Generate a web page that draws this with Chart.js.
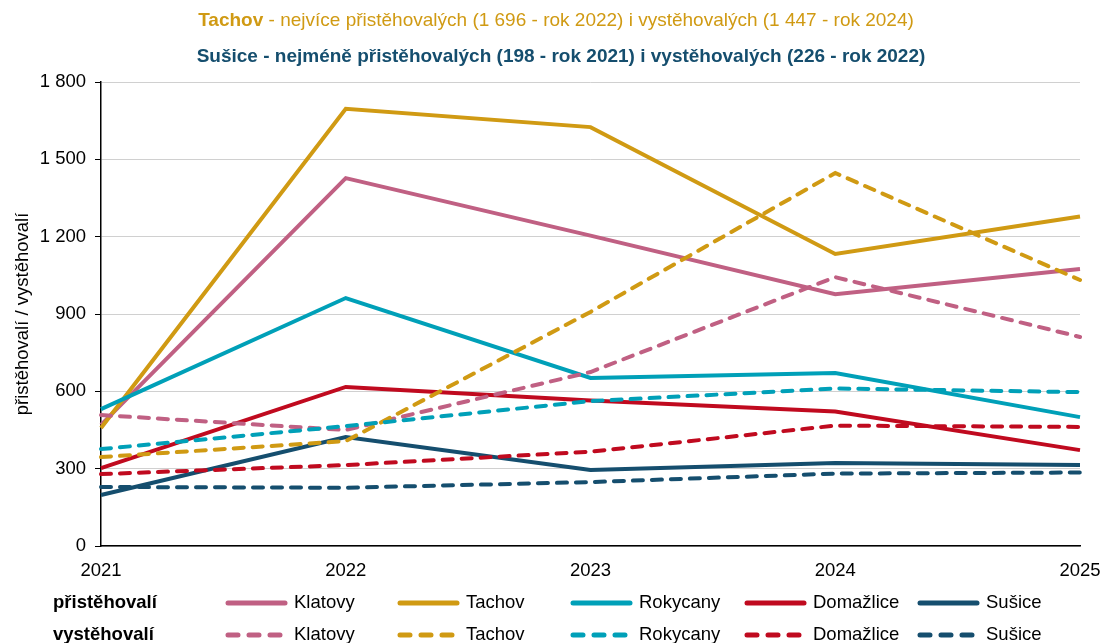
<!DOCTYPE html>
<html>
<head>
<meta charset="utf-8">
<script src="https://cdn.jsdelivr.net/npm/chart.js@4.4.1/dist/chart.umd.min.js"></script>
<style>
  html, body { margin: 0; padding: 0; background: #fff; }
  #wrap { width: 1103px; height: 643px; position: relative; }
</style>
</head>
<body>
<div id="wrap"><canvas id="graf"></canvas></div>
<script>
// roky a hodnoty
const roky = ['2021', '2022', '2023', '2024', '2025'];
const okresy = ['Klatovy', 'Tachov', 'Rokycany', 'Domažlice', 'Sušice'];
const barvy = ['#C06083', '#D09A13', '#00A0B8', '#C00A1F', '#154E6E'];

const klatovyPri = [470, 1427, 1204, 977, 1075];
const tachovPri = [458, 1696, 1625, 1133, 1278];
const rokycanyPri = [531, 962, 652, 671, 500];
const domazlicePri = [302, 617, 564, 522, 372];
const susicePri = [198, 423, 295, 322, 314];

const klatovyVys = [508, 450, 675, 1043, 811];
const tachovVys = [345, 407, 908, 1447, 1032];
const rokycanyVys = [376, 465, 562, 611, 597];
const domazliceVys = [279, 314, 366, 467, 462];
const susiceVys = [229, 226, 248, 281, 285];

const yTicks = [0, 300, 600, 900, 1200, 1500, 1800];

const pri = [klatovyPri, tachovPri, rokycanyPri, domazlicePri, susicePri];
const vys = [klatovyVys, tachovVys, rokycanyVys, domazliceVys, susiceVys];

const FONT = "'Liberation Sans', Arial, sans-serif";
const VEL = 18.5;

const datasets = [];
pri.forEach((d, i) => {
  datasets.push({
    label: okresy[i], data: d, borderColor: barvy[i], backgroundColor: barvy[i],
    borderWidth: 4, pointRadius: 0, tension: 0, borderCapStyle: 'butt',
    order: 100 - datasets.length
  });
});
vys.forEach((d, i) => {
  datasets.push({
    label: okresy[i], data: d, borderColor: barvy[i], backgroundColor: barvy[i],
    borderWidth: 4, pointRadius: 0, tension: 0, borderDash: [10, 9], borderCapStyle: 'round',
    order: 100 - datasets.length
  });
});

function mezery(v) {
  return String(v).replace(/\B(?=(\d{3})+(?!\d))/g, ' ');
}

// nadpis a legenda kreslene rucne
const popisky = {
  id: 'popisky',
  afterDraw(chart) {
    const ctx = chart.ctx;
    ctx.save();
    ctx.textBaseline = 'middle';

    // 1. radek nadpisu
    const t1a = 'Tachov';
    const t1b = ' - nejvíce přistěhovalých (1 696 - rok 2022) i vystěhovalých (1 447 - rok 2024)';
    ctx.font = 'bold 19px ' + FONT;
    const wa = ctx.measureText(t1a).width;
    ctx.font = '19px ' + FONT;
    const wb = ctx.measureText(t1b).width;
    let x = 556 - (wa + wb) / 2;
    ctx.fillStyle = barvy[1];
    ctx.textAlign = 'left';
    ctx.font = 'bold 19px ' + FONT;
    ctx.fillText(t1a, x, 21);
    ctx.font = '19px ' + FONT;
    ctx.fillText(t1b, x + wa, 21);

    // 2. radek
    ctx.font = 'bold 19px ' + FONT;
    ctx.fillStyle = barvy[4];
    ctx.textAlign = 'center';
    ctx.fillText('Sušice - nejméně přistěhovalých (198 - rok 2021) i vystěhovalých (226 - rok 2022)', 561, 57);

    // legenda
    const radky = [['přistěhovalí', 603, false], ['vystěhovalí', 635, true]];
    const sx = [225, 397, 570, 744, 917];
    radky.forEach(([nazev, y, car]) => {
      ctx.font = 'bold ' + VEL + 'px ' + FONT;
      ctx.fillStyle = '#000';
      ctx.textAlign = 'left';
      ctx.fillText(nazev, 53, y);
      okresy.forEach((o, i) => {
        ctx.strokeStyle = barvy[i];
        ctx.lineWidth = 5;
        ctx.lineCap = 'round';
        if (car) {
          ctx.setLineDash([10, 11]);
          ctx.beginPath();
          ctx.moveTo(sx[i] + 3, y);
          ctx.lineTo(sx[i] + 60, y);
          ctx.stroke();
          ctx.setLineDash([]);
        } else {
          ctx.beginPath();
          ctx.moveTo(sx[i] + 3, y);
          ctx.lineTo(sx[i] + 60, y);
          ctx.stroke();
        }
        ctx.font = VEL + 'px ' + FONT;
        ctx.fillStyle = '#000';
        ctx.fillText(o, sx[i] + 69, y);
      });
    });
    ctx.restore();
  }
};

new Chart(document.getElementById('graf'), {
  type: 'line',
  data: { labels: roky, datasets: datasets },
  plugins: [popisky],
  options: {
    responsive: true,
    maintainAspectRatio: false,
    animation: false,
    layout: { padding: { top: 82, right: 23, bottom: 67, left: 0 } },
    plugins: {
      legend: { display: false },
      title: { display: false },
      tooltip: { enabled: false }
    },
    scales: {
      x: {
        offset: false,
        grid: { display: false, drawTicks: false },
        border: { display: true, color: '#000', width: 1.5 },
        ticks: { color: '#000', font: { family: FONT, size: VEL }, padding: 14, maxRotation: 0, autoSkip: false },
        afterFit(s) { s.height = 30; s.paddingLeft = 0; s.paddingRight = 0; }
      },
      y: {
        min: 0, max: 1800,
        afterBuildTicks(s) { s.ticks = yTicks.map(v => ({ value: v })); },
        grid: { color: '#D0D0D0', lineWidth: 1, tickLength: 6, tickColor: '#000' },
        border: { display: true, color: '#000', width: 1.5 },
        ticks: { color: '#000', font: { family: FONT, size: VEL }, padding: 9, callback: v => mezery(v) },
        title: { display: true, text: 'přistěhovalí / vystěhovalí', color: '#000', font: { family: FONT, size: VEL }, padding: { top: 12, bottom: 0 } },
        afterFit(s) { s.width = 101; s.paddingTop = 0; s.paddingBottom = 0; }
      }
    }
  }
});
</script>
</body>
</html>
